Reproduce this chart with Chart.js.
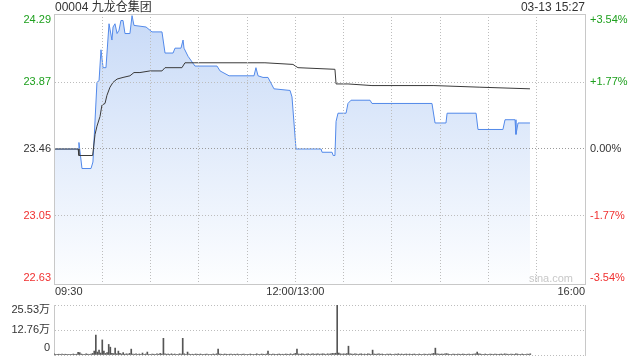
<!DOCTYPE html>
<html>
<head>
<meta charset="utf-8">
<script src="https://cdn.jsdelivr.net/npm/chart.js@4.4.1/dist/chart.umd.min.js"></script>
<style>
  html, body { margin: 0; padding: 0; background: #fff; }
  #wrap { position: relative; width: 640px; height: 360px; }
  #main { position: absolute; left: 0; top: 0; }
  #vol { position: absolute; left: 0; top: 300px; }
</style>
</head>
<body>
<div id="wrap">
  <canvas id="main" width="640" height="300"></canvas>
  <canvas id="vol" width="640" height="60"></canvas>
</div>
<script>
// chart text
const stockTitle = '00004 九龙仓集团';
const stampText = '03-13 15:27';
const prevClose = 23.46;

// minutes from 09:30 (12:00 and 13:00 share minute 150, 16:00 = 330)
const timeTicks = [0, 150, 330];
const timeLabels = ['09:30', '12:00/13:00', '16:00'];

const priceTicks = [22.63, 23.05, 23.46, 23.87, 24.29];
const pctLabels = ['-3.54%', '-1.77%', '0.00%', '+1.77%', '+3.54%'];

const volTicks = [0, 12.76, 25.53];
const volLabels = ['0', '12.76万', '25.53万'];

// price line, read at its corners
const priceTimes = [0, 15, 15.5, 17.4, 23, 24.2, 26.7, 28, 29.2, 30.5, 32.3, 34.2, 36, 36.7, 37.9,
  39.2, 40.4, 41.6, 42.9, 44.1, 47.2, 48.5, 49.7, 57.2, 60.9, 67.1, 69, 74, 75.2, 78.9, 80.2,
  80.8, 83.3, 87.6, 101.3, 103.2, 108.8, 124.3, 125.5, 126.8, 129.9, 133, 136.7, 146.7, 147.9,
  150.4, 166, 166.6, 172.8, 173.5, 174.6, 175.3, 176.5, 181.5, 182.7, 184.6, 196.4, 197.6,
  234.9, 236.8, 243.6, 244.3, 262.3, 263.5, 279, 280.3, 286.5, 287.1, 288.4, 295.8];
const priceValues = [23.46, 23.46, 23.50, 23.34, 23.34, 23.38, 23.87, 23.88, 24.07, 23.96, 23.96, 24.23, 24.13, 24.21, 24.23,
  24.17, 24.19, 24.25, 24.25, 24.17, 24.17, 24.28, 24.22, 24.21, 24.18, 24.18, 24.05, 24.05, 24.08, 24.08, 24.13,
  24.08, 24.03, 23.97, 23.97, 23.94, 23.91, 23.91, 23.96, 23.91, 23.90, 23.90, 23.83, 23.82, 23.78,
  23.46, 23.46, 23.44, 23.44, 23.42, 23.42, 23.63, 23.68, 23.68, 23.74, 23.76, 23.76, 23.74,
  23.74, 23.62, 23.62, 23.68, 23.68, 23.58, 23.58, 23.64, 23.64, 23.55, 23.62, 23.62];

// average price line
const avgTimes = [0, 15, 15.5, 24, 25.5, 26.7, 28.6, 29.8, 31.7, 32.9, 34.8, 36.7, 39.2, 42.9, 47.2,
  49.7, 53.4, 59.6, 67.1, 69, 79.5, 81.4, 87.6, 131.1, 148.5, 151.6, 174.6, 175.3, 182.7, 197.6,
  236.1, 264.7, 295.8];
const avgValues = [23.46, 23.46, 23.42, 23.42, 23.55, 23.60, 23.66, 23.73, 23.74, 23.79, 23.84, 23.87, 23.89, 23.90, 23.91,
  23.93, 23.93, 23.94, 23.94, 23.96, 23.96, 23.99, 23.99, 23.99, 23.98, 23.96, 23.95, 23.86, 23.86, 23.85,
  23.85, 23.84, 23.83];

// volume per minute, in 万
const volumes = [
  0.6, 0.3, 0.3, 0.4, 0.3, 0.5, 0.3, 0.4, 0.3, 0.3,
  0.4, 0.3, 0.5, 0.3, 0.4, 1.4, 1.2, 0.5, 0.4, 0.3,
  0.6, 0.4, 0.3, 0.5, 0.8, 2.0, 10.2, 1.5, 2.5, 1.0,
  7.7, 2.0, 0.8, 1.2, 5.4, 4.0, 0.9, 0.7, 3.5, 0.6,
  2.0, 0.8, 0.5, 1.2, 0.4, 0.6, 0.5, 0.8, 3.0, 0.5,
  0.4, 0.6, 0.3, 0.5, 0.4, 1.0, 0.3, 0.5, 1.5, 0.4,
  0.3, 0.5, 0.4, 0.3, 0.6, 0.4, 0.8, 0.5, 8.5, 0.6,
  0.4, 0.5, 0.3, 0.6, 0.4, 0.5, 0.3, 0.4, 0.6, 0.5,
  8.5, 0.6, 0.4, 1.5, 0.5, 0.3, 0.4, 0.3, 0.5, 0.4,
  0.3, 0.5, 0.4, 0.3, 0.4, 0.5, 0.3, 0.4, 0.3, 0.5,
  0.4, 0.6, 3.0, 0.5, 0.4, 0.3, 0.5, 0.4, 0.3, 0.4,
  0.5, 0.3, 0.4, 0.3, 0.5, 0.4, 0.3, 0.4, 0.5, 0.3,
  0.4, 0.3, 0.5, 0.4, 0.3, 0.4, 0.6, 0.3, 0.4, 0.5,
  0.4, 0.3, 0.5, 2.0, 0.4, 0.3, 0.5, 0.4, 0.3, 0.4,
  0.5, 0.3, 0.4, 0.3, 0.5, 0.4, 0.3, 0.6, 0.4, 0.5,
  0.8, 3.0, 0.5, 0.4, 0.6, 0.5, 0.4, 0.5, 0.6, 0.4,
  0.5, 0.6, 0.4, 0.5, 0.6, 0.4, 0.5, 0.6, 0.5, 0.4,
  0.6, 0.5, 0.6, 0.8, 0.7, 0.9, 25.53, 1.0, 0.6, 0.5,
  0.6, 0.5, 0.7, 4.5, 0.6, 0.5, 0.4, 0.6, 0.5, 0.4,
  0.5, 0.6, 0.4, 0.5, 0.4, 0.6, 0.5, 0.4, 2.5, 0.5,
  0.4, 0.5, 0.6, 0.4, 0.5, 0.4, 0.3, 0.5, 0.4, 0.5,
  0.4, 0.3, 0.5, 0.4, 0.6, 0.4, 0.5, 0.3, 0.4, 0.5,
  0.4, 0.5, 0.3, 0.4, 0.5, 0.4, 0.3, 0.5, 0.4, 0.3,
  0.5, 0.4, 0.3, 0.5, 0.4, 0.6, 0.8, 3.5, 0.6, 0.5,
  0.4, 0.5, 0.4, 0.6, 0.7, 0.5, 0.4, 0.3, 0.5, 0.4,
  0.3, 0.5, 0.4, 0.3, 0.5, 0.4, 0.3, 0.4, 0.5, 0.3,
  0.4, 0.5, 0.6, 1.5, 0.6, 0.5, 0.4, 0.3, 0.5, 0.4,
  0.3, 0.5, 0.4, 0.3, 0.5, 0.4, 0.3, 0.4, 0.5, 0.4,
  0.6, 0.5, 0.4, 0.3, 0.5, 0.4, 0.3, 0.6, 0.5, 0.4,
  0.3, 0.5, 0.4, 0.3, 0.5, 0.4, 0.6
];

const FONT = "'Liberation Sans', Arial, 'Noto Sans CJK SC', sans-serif";
const GRID = '#bdbdbd';
const BORDER = '#c8c8c8';
const UP = '#1ea01e';
const DOWN = '#f03030';

Chart.defaults.animation = false;
Chart.defaults.font.family = FONT;

const zeroW = s => { s.width = 0; };
const zeroH = s => { s.height = 0; };

function toPoints(xs, ys) {
  return xs.map((x, i) => ({ x: x, y: ys[i] }));
}

// labels in the sina layout: outer ticks pulled inside the frame
const mainLabels = {
  id: 'mainLabels',
  afterDraw(chart) {
    const ctx = chart.ctx;
    const area = chart.chartArea;
    const y = chart.scales.y;
    const x = chart.scales.x;
    ctx.save();
    ctx.textBaseline = 'middle';

    ctx.font = '12px ' + FONT;
    ctx.fillStyle = '#333';
    ctx.textAlign = 'left';
    ctx.fillText(stockTitle, area.left + 1, 7.5);
    ctx.textAlign = 'right';
    ctx.fillText(stampText, area.right, 7.5);

    ctx.font = '11px ' + FONT;
    priceTicks.forEach((v, i) => {
      let py = y.getPixelForValue(v);
      if (i === 0) py -= 6;
      if (i === priceTicks.length - 1) py += 6;
      ctx.fillStyle = v > prevClose ? UP : (v < prevClose ? DOWN : '#333');
      ctx.textAlign = 'right';
      ctx.fillText(v.toFixed(2), area.left - 3, py);
      ctx.textAlign = 'left';
      ctx.fillText(pctLabels[i], area.right + 5, py);
    });

    ctx.fillStyle = '#333';
    timeTicks.forEach((t, i) => {
      ctx.textAlign = i === 0 ? 'left' : (i === timeTicks.length - 1 ? 'right' : 'center');
      ctx.fillText(timeLabels[i], x.getPixelForValue(t) + (i === 0 ? 1 : 0), area.bottom + 8);
    });

    ctx.fillStyle = '#c8c8c8';
    ctx.textAlign = 'right';
    ctx.fillText('sina.com', area.right - 12, area.bottom - 5);
    ctx.restore();
  }
};

new Chart(document.getElementById('main'), {
  type: 'line',
  data: {
    datasets: [{
      data: toPoints(avgTimes, avgValues),
      borderColor: '#3a3a3a',
      borderWidth: 1,
      pointRadius: 0,
      fill: false
    }, {
      data: toPoints(priceTimes, priceValues),
      borderColor: '#5289ea',
      borderWidth: 1,
      pointRadius: 0,
      fill: 'start',
      backgroundColor: c => {
        const a = c.chart.chartArea;
        if (!a) return 'rgba(200,220,248,0.6)';
        const g = c.chart.ctx.createLinearGradient(0, a.top, 0, a.bottom);
        g.addColorStop(0, '#c8daf7');
        g.addColorStop(1, '#fdfeff');
        return g;
      }
    }]
  },
  options: {
    responsive: false,
    layout: { padding: { left: 54, right: 55, top: 14, bottom: 16 } },
    plugins: { legend: { display: false }, tooltip: { enabled: false } },
    scales: {
      x: {
        type: 'linear', min: 0, max: 330,
        ticks: { display: false, stepSize: 30 },
        grid: { color: GRID, drawTicks: false, z: 1 },
        border: { color: BORDER, dash: [1, 2], z: 2 },
        afterFit: zeroH
      },
      xTop: {
        type: 'linear', position: 'top', min: 0, max: 330,
        ticks: { display: false },
        grid: { display: false, drawTicks: false },
        border: { color: BORDER, z: 2 },
        afterFit: zeroH
      },
      y: {
        min: priceTicks[0], max: priceTicks[priceTicks.length - 1],
        afterBuildTicks: s => { s.ticks = priceTicks.map(v => ({ value: v })); },
        ticks: { display: false },
        grid: {
          drawTicks: false, z: 1,
          color: c => c.tick && c.tick.value === prevClose ? '#9a9a9a' : GRID
        },
        border: { color: BORDER, dash: [1, 2], z: 2 },
        afterFit: zeroW
      },
      yPct: {
        position: 'right', min: -3.54, max: 3.54,
        ticks: { display: false },
        grid: { display: false, drawTicks: false },
        border: { color: BORDER, z: 2 },
        afterFit: zeroW
      }
    }
  },
  plugins: [mainLabels]
});

const volLabelPlugin = {
  id: 'volLabels',
  afterDraw(chart) {
    const ctx = chart.ctx;
    const area = chart.chartArea;
    const y = chart.scales.y;
    ctx.save();
    ctx.font = '11px ' + FONT;
    ctx.fillStyle = '#333';
    ctx.textAlign = 'right';
    ctx.textBaseline = 'middle';
    volTicks.forEach((v, i) => {
      let py = y.getPixelForValue(v);
      if (i === 0) py -= 7;
      if (i === volTicks.length - 1) py += 5;
      ctx.fillText(volLabels[i], area.left - 4, py);
    });
    ctx.restore();
  }
};

new Chart(document.getElementById('vol'), {
  type: 'bar',
  data: {
    datasets: [{
      data: volumes.map((v, i) => ({ x: i, y: v })),
      backgroundColor: '#555',
      barThickness: 1,
      borderWidth: 0
    }]
  },
  options: {
    responsive: false,
    layout: { padding: { left: 54, right: 55, top: 5, bottom: 5 } },
    plugins: { legend: { display: false }, tooltip: { enabled: false } },
    scales: {
      x: {
        type: 'linear', min: 0, max: 330, offset: false,
        ticks: { display: false },
        grid: { display: false, drawTicks: false },
        border: { display: false },
        afterFit: zeroH
      },
      y: {
        min: 0, max: volTicks[volTicks.length - 1],
        afterBuildTicks: s => { s.ticks = volTicks.map(v => ({ value: v })); },
        ticks: { display: false },
        grid: { color: GRID, drawTicks: false },
        border: { color: BORDER, dash: [1, 2] },
        afterFit: zeroW
      },
      yR: {
        position: 'right', min: 0, max: 1,
        ticks: { display: false },
        grid: { display: false, drawTicks: false },
        border: { color: BORDER },
        afterFit: zeroW
      }
    }
  },
  plugins: [volLabelPlugin]
});
</script>
</body>
</html>
